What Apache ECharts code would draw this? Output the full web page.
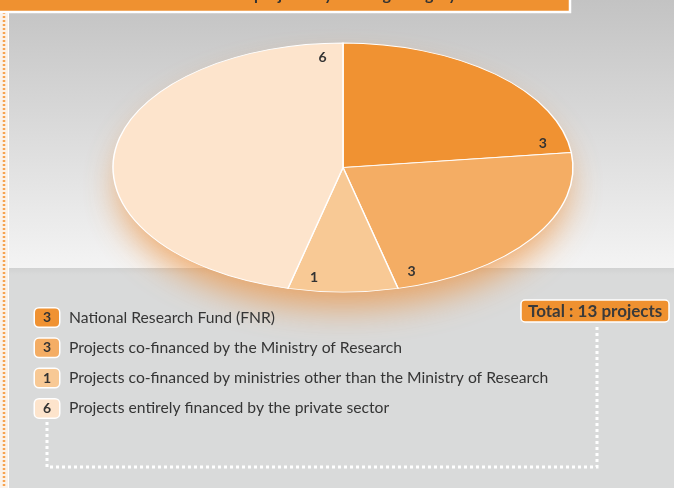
<!DOCTYPE html>
<html>
<head>
<meta charset="utf-8">
<script src="https://cdn.jsdelivr.net/npm/echarts@6/dist/echarts.min.js"></script>
<style>
    html, body { margin: 0; padding: 0; background: #fbf2e9; }
    #chart { width: 674px; height: 488px; }
</style>
</head>
<body>
<div id="chart"></div>
<script>
    // data
    var categories = [
        'National Research Fund (FNR)',
        'Projects co-financed by the Ministry of Research',
        'Projects co-financed by ministries other than the Ministry of Research',
        'Projects entirely financed by the private sector'
    ];
    var projectCounts = [3, 3, 1, 6];
    var sliceColors = ['#f09232', '#f4ad64', '#f8c995', '#fde4cc'];
    var bannerTitle = 'Breakdown of the projects by funding category';

    var FONT = 'Lato, "Liberation Sans", sans-serif';

    var total = 0, starts = [];
    for (var i = 0; i < projectCounts.length; i++) {
        starts.push(total);
        total += projectCounts[i];
    }

    //椭圆饼图的位置和大小
    var CX = 343, CY = 167.5, RX = 230, RY = 124.5;

    function renderSlice(idx) {
        return function (params, api) {
            var v = api.value(0);
            var a0 = -Math.PI / 2 + 2 * Math.PI * starts[idx] / total;
            var a1 = a0 + 2 * Math.PI * v / total;
            var la = a1 - 0.1;
            return {
                type: 'group',
                children: [{
                    type: 'sector',
                    x: CX, y: CY, scaleY: RY / RX,
                    shape: {cx: 0, cy: 0, r: RX, r0: 0, startAngle: a0, endAngle: a1, clockwise: true},
                    style: {fill: sliceColors[idx], stroke: '#fff', lineWidth: 1.5, strokeNoScale: true}
                }, {
                    type: 'text',
                    x: CX + RX * 0.89 * Math.cos(la),
                    y: CY + RY * 0.89 * Math.sin(la),
                    style: {
                        text: String(v), fill: '#333', fontSize: 14, fontWeight: 'bold', fontFamily: FONT,
                        align: 'center', verticalAlign: 'middle'
                    }
                }]
            };
        };
    }

    var series = [];
    var rich = {t: {fontSize: 15.7, color: '#353535', fontFamily: FONT, padding: [0, 0, 0, 10]}};
    categories.forEach(function (name, idx) {
        series.push({
            type: 'custom',
            name: name,
            coordinateSystem: 'none',
            color: sliceColors[idx],
            renderItem: renderSlice(idx),
            data: [[projectCounts[idx]]],
            animation: false
        });
        rich['b' + idx] = {
            width: 24, height: 18, align: 'center', backgroundColor: sliceColors[idx],
            borderColor: '#fff', borderWidth: 1.5, borderRadius: 4,
            fontSize: 14, fontWeight: 'bold', color: '#333', fontFamily: FONT
        };
    });

    var chart = echarts.init(document.getElementById('chart'));
    var option = {
        backgroundColor: '#fbf2e9',
        animation: false,
        title: [{
            text: 'Total : ' + total + ' projects',
            left: 521, top: 300,
            backgroundColor: '#ef9130',
            borderColor: '#fff', borderWidth: 1.5, borderRadius: 4,
            padding: [3, 7, 2, 7],
            textStyle: {fontSize: 17, fontWeight: 'bold', color: '#3a3a3a', fontFamily: FONT}
        }],
        legend: {
            orient: 'vertical',
            left: 25, top: 302,
            itemWidth: 0, itemHeight: 20, itemGap: 9.3,
            selectedMode: false,
            data: categories,
            formatter: function (name) {
                var idx = categories.indexOf(name);
                return '{b' + idx + '|' + projectCounts[idx] + '}{t|' + name + '}';
            },
            textStyle: {rich: rich}
        },
        graphic: [
            //面板背景
            {type: 'rect', z: -10, shape: {x: 8, y: 0, width: 670, height: 270},
                style: {fill: new echarts.graphic.LinearGradient(0, 0, 0, 1, [
                    {offset: 0, color: '#c3c3c3'}, {offset: 0.55, color: '#dedede'}, {offset: 1, color: '#f4f4f4'}])}},
            {type: 'rect', z: -9, shape: {x: 8, y: 268, width: 670, height: 222},
                style: {fill: new echarts.graphic.LinearGradient(0, 0, 0, 1, [
                    {offset: 0, color: '#d1d2d2'}, {offset: 0.03, color: '#d9dada'}, {offset: 1, color: '#d9dada'}])}},
            {type: 'line', z: -8, shape: {x1: 8.5, y1: 0, x2: 8.5, y2: 488}, style: {stroke: '#fff', lineWidth: 1}},
            {type: 'line', z: -8, shape: {x1: 4, y1: 0, x2: 4, y2: 488},
                style: {stroke: '#f7a34f', lineWidth: 2.5, lineDash: [2, 2]}},
            //顶部标题条
            {type: 'rect', z: -7, shape: {x: -2, y: -2, width: 572, height: 14},
                style: {fill: '#ef9130', stroke: '#fff', lineWidth: 2.5}},
            {type: 'text', z: -6, x: 290, y: 3,
                style: {text: bannerTitle, fill: '#333', fontSize: 16, fontWeight: 'bold', fontFamily: FONT,
                    align: 'center', verticalAlign: 'bottom'}},
            //饼图下面的光晕
            {type: 'ellipse', z: -5, shape: {cx: CX, cy: CY + 3, rx: RX - 6, ry: RY - 4},
                style: {fill: '#fbd9b4', shadowBlur: 34, shadowColor: 'rgba(238,140,50,0.7)', shadowOffsetY: 16}},
            //虚线框
            {type: 'polyline', z: -4, shape: {points: [[597, 327], [597, 467], [47, 467], [47, 420]]},
                style: {stroke: '#fff', lineWidth: 3, lineDash: [3, 3], fill: null}}
        ],
        series: series
    };
    chart.setOption(option);
</script>
</body>
</html>
